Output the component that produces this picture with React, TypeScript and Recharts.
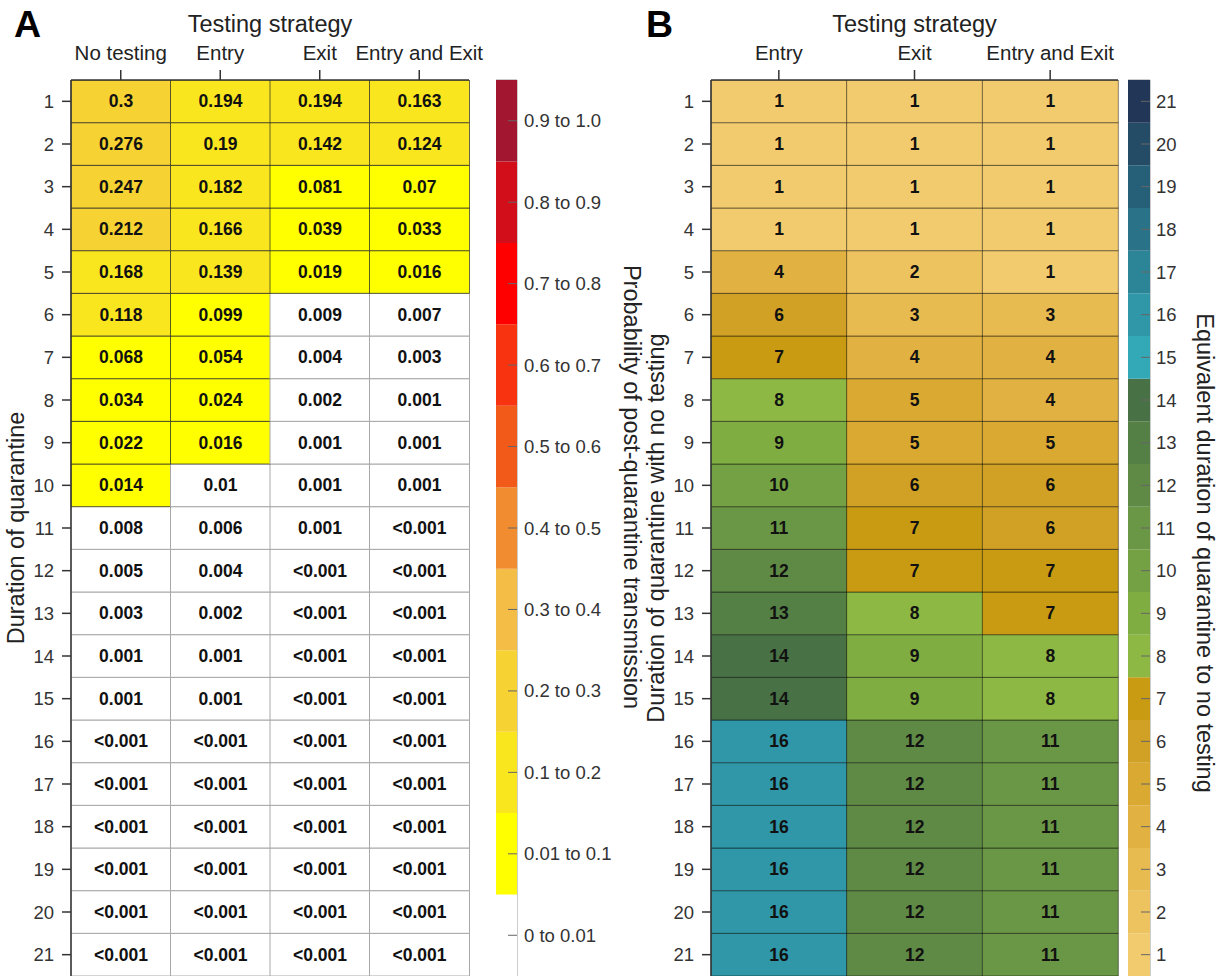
import React from 'react';
import { BarChart, Bar, XAxis, YAxis, Cell, LabelList, ReferenceArea } from 'recharts';

const FONT = '"Liberation Sans", Arial, Helvetica, sans-serif';

// ---------- shared ----------
const durations = [1, 2, 3, 4, 5, 6, 7, 8, 9, 10, 11, 12, 13, 14, 15, 16, 17, 18, 19, 20, 21];

// ---------- panel A: probability of post-quarantine transmission ----------
const strategiesA = ['No testing', 'Entry', 'Exit', 'Entry and Exit'];
const LT = 0.0004; // value shown as "<0.001"
const probNoTesting = [0.3, 0.276, 0.247, 0.212, 0.168, 0.118, 0.068, 0.034, 0.022, 0.014, 0.008, 0.005, 0.003, 0.001, 0.001, LT, LT, LT, LT, LT, LT];
const probEntry = [0.194, 0.19, 0.182, 0.166, 0.139, 0.099, 0.054, 0.024, 0.016, 0.01, 0.006, 0.004, 0.002, 0.001, 0.001, LT, LT, LT, LT, LT, LT];
const probExit = [0.194, 0.142, 0.081, 0.039, 0.019, 0.009, 0.004, 0.002, 0.001, 0.001, 0.001, LT, LT, LT, LT, LT, LT, LT, LT, LT, LT];
const probEntryExit = [0.163, 0.124, 0.07, 0.033, 0.016, 0.007, 0.003, 0.001, 0.001, 0.001, LT, LT, LT, LT, LT, LT, LT, LT, LT, LT, LT];

const binUpperA = [0.01, 0.1, 0.2, 0.3, 0.4, 0.5, 0.6, 0.7, 0.8, 0.9, 1.0];
const binLabelsA = ['0 to 0.01', '0.01 to 0.1', '0.1 to 0.2', '0.2 to 0.3', '0.3 to 0.4', '0.4 to 0.5', '0.5 to 0.6', '0.6 to 0.7', '0.7 to 0.8', '0.8 to 0.9', '0.9 to 1.0'];
const binColorsA = ['#FFFFFF', '#FFFF00', '#FAE61E', '#F6D233', '#F4BE46', '#F28C31', '#F25A1A', '#F8330F', '#FF0000', '#D10E19', '#A3162F'];

// ---------- panel B: equivalent duration with no testing ----------
const strategiesB = ['Entry', 'Exit', 'Entry and Exit'];
const equivEntry = [1, 1, 1, 1, 4, 6, 7, 8, 9, 10, 11, 12, 13, 14, 14, 16, 16, 16, 16, 16, 16];
const equivExit = [1, 1, 1, 1, 2, 3, 4, 5, 5, 6, 7, 7, 8, 9, 9, 12, 12, 12, 12, 12, 12];
const equivEntryExit = [1, 1, 1, 1, 1, 3, 4, 4, 5, 6, 6, 7, 7, 8, 8, 11, 11, 11, 11, 11, 11];

const equivLevels = [1, 2, 3, 4, 5, 6, 7, 8, 9, 10, 11, 12, 13, 14, 15, 16, 17, 18, 19, 20, 21];
const equivColors = [
  '#F2CB6F', '#EDC35F', '#E7BB50', '#E1B241', '#D9A931', '#D0A124', '#C89B13',
  '#8DB843', '#80AD42', '#74A143', '#6A9745', '#5F8A45', '#547F45', '#487245',
  '#33A9B8', '#2F97A8', '#2B8597', '#297287', '#265F78', '#244C67', '#223657',
];

const seriesA = [probNoTesting, probEntry, probExit, probEntryExit];
const seriesB = [equivEntry, equivExit, equivEntryExit];

const fmtProb = (v: number) => (v < 0.001 ? '<0.001' : String(v));
const colorA = (v: number) => {
  const i = binUpperA.findIndex((u) => v <= u);
  return binColorsA[i < 0 ? binColorsA.length - 1 : i];
};
const colorB = (v: number) => equivColors[equivLevels.indexOf(v)];

const rowsA = strategiesA.map((s, j) => {
  const o: any = { strategy: s };
  durations.forEach((d, i) => {
    o['r' + d] = 1;
    o['t' + d] = fmtProb(seriesA[j][i]);
  });
  return o;
});
const rowsB = strategiesB.map((s, j) => {
  const o: any = { strategy: s };
  durations.forEach((d, i) => {
    o['r' + d] = 1;
    o['t' + d] = String(seriesB[j][i]);
  });
  return o;
});

const cbA = [Object.assign({ k: 'cb' }, ...binLabelsA.map((_, i) => ({ ['s' + i]: 1 })))];
const cbB = [Object.assign({ k: 'cb' }, ...equivLevels.map((_, i) => ({ ['s' + i]: 1 })))];

const rowTicks = durations.map((d) => durations.length + 0.5 - d);
const rowFmt = (v: number) => String(durations.length + 0.5 - v);

// ---------- helpers ----------
const CellText = (p: any) => {
  const vb = p.viewBox || p;
  const x = vb.x + vb.width / 2;
  const y = vb.y + vb.height / 2;
  return (
    <text x={x} y={y} textAnchor="middle" dominantBaseline="central" fontSize={17.5} fontWeight="bold" fill="#111" fontFamily={FONT}>
      {p.value}
    </text>
  );
};

const AxisTitle = (props: any) => {
  const { viewBox, txt, offX = 0, offY = 0, rot = 0, mode } = props;
  const vb = viewBox || { x: 0, y: 0, width: 0, height: 0 };
  let x: number;
  let y: number;
  if (mode === 'top') {
    x = vb.x + vb.width / 2;
    y = vb.y + offY;
  } else {
    x = vb.x + offX;
    y = vb.y + vb.height / 2 + offY;
  }
  return (
    <text
      x={x}
      y={y}
      transform={rot ? `rotate(${rot} ${x} ${y})` : undefined}
      textAnchor="middle"
      dominantBaseline={mode === 'top' ? 'alphabetic' : 'central'}
      fontSize={23.5}
      fill="#222"
      fontFamily={FONT}
    >
      {txt}
    </text>
  );
};

const axisStroke = { stroke: '#333', strokeWidth: 1.5 };

function HeatPanel({ rows, series, colorFn, strokeFn, yTitle, left, plotW }: any) {
  const rightPad = 40;
  return (
    <div style={{ position: 'absolute', left, top: 0 }}>
      <BarChart
        width={71 + plotW + rightPad}
        height={1000}
        data={rows}
        margin={{ top: 0, right: rightPad, bottom: 24, left: 0 }}
        barCategoryGap={0}
      >
        {[...durations].reverse().map((d) => (
          <Bar key={d} dataKey={'r' + d} stackId="a" isAnimationActive={false}>
            {series.map((ser: number[], j: number) => (
              <Cell key={j} fill={colorFn(ser[d - 1])} stroke={strokeFn(ser[d - 1])} strokeWidth={1} />
            ))}
            <LabelList dataKey={'t' + d} content={CellText} />
          </Bar>
        ))}
        <XAxis
          dataKey="strategy"
          type="category"
          orientation="top"
          height={80}
          tickSize={10}
          tickMargin={10}
          interval={0}
          axisLine={axisStroke}
          tickLine={axisStroke}
          tick={{ fontSize: 20.5, fill: '#222', fontFamily: FONT }}
          label={<AxisTitle mode="top" offY={32} txt="Testing strategy" />}
        />
        <YAxis
          type="number"
          domain={[0, durations.length]}
          ticks={rowTicks}
          tickFormatter={rowFmt}
          interval={0}
          width={71}
          tickSize={9}
          tickMargin={8}
          allowDataOverflow
          axisLine={axisStroke}
          tickLine={axisStroke}
          tick={{ fontSize: 18.5, fill: '#333', fontFamily: FONT }}
          label={<AxisTitle offX={15.5} rot={-90} txt={yTitle} />}
        />
      </BarChart>
    </div>
  );
}

function ColorBar({ data, colors, labels, left, barW, axisW, title, titleDx, titleDy, tickMargin }: any) {
  const n = colors.length;
  return (
    <div style={{ position: 'absolute', left, top: 0 }}>
      <BarChart
        width={barW + axisW}
        height={1000}
        data={data}
        margin={{ top: 80, right: 0, bottom: 24, left: 0 }}
        barCategoryGap={0}
      >
        {colors.map((c: string, i: number) => (
          <Bar key={i} dataKey={'s' + i} stackId="c" fill={c} isAnimationActive={false} />
        ))}
        <ReferenceArea y1={0} y2={n} fill="none" stroke="#9a9a9a" strokeWidth={1} ifOverflow="visible" />
        <XAxis dataKey="k" hide />
        <YAxis
          orientation="right"
          type="number"
          domain={[0, n]}
          ticks={labels.map((_: any, i: number) => i + 0.5)}
          tickFormatter={(v: number) => String(labels[Math.floor(v)])}
          interval={0}
          width={axisW}
          tickSize={-9}
          tickMargin={tickMargin}
          allowDataOverflow
          axisLine={false}
          tickLine={{ stroke: '#666', strokeWidth: 1 }}
          tick={{ fontSize: 18.5, fill: '#333', fontFamily: FONT, textAnchor: 'start' }}
          label={<AxisTitle offX={titleDx} offY={titleDy} rot={90} txt={title} />}
        />
      </BarChart>
    </div>
  );
}

export default function App() {
  return (
    <div
      style={{
        position: 'absolute',
        left: 0,
        top: 0,
        width: 1225,
        height: 976,
        overflow: 'hidden',
        background: '#ffffff',
        fontFamily: FONT,
      }}
    >
      <svg width={1225} height={60} style={{ position: 'absolute', left: 0, top: 0 }}>
        <text x={14} y={37} fontSize={37.5} fontWeight="bold" fill="#000" fontFamily={FONT}>A</text>
        <text x={646} y={37} fontSize={37.5} fontWeight="bold" fill="#000" fontFamily={FONT}>B</text>
      </svg>
      <HeatPanel
        rows={rowsA}
        series={seriesA}
        colorFn={colorA}
        strokeFn={(v: number) => (v <= binUpperA[0] ? '#a8a8a8' : 'rgba(40,40,40,0.7)')}
        yTitle="Duration of quarantine"
        left={0}
        plotW={398}
      />
      <ColorBar
        data={cbA}
        colors={binColorsA}
        labels={binLabelsA}
        left={496}
        barW={21}
        axisW={150}
        title="Probability of post-quarantine transmission"
        titleDx={114.5}
        titleDy={-41}
        tickMargin={16}
      />
      <HeatPanel
        rows={rowsB}
        series={seriesB}
        colorFn={colorB}
        strokeFn={() => 'rgba(0,0,0,0.45)'}
        yTitle="Duration of quarantine with no testing"
        left={640}
        plotW={407}
      />
      <ColorBar
        data={cbB}
        colors={equivColors}
        labels={equivLevels}
        left={1128}
        barW={22}
        axisW={75}
        title="Equivalent duration of quarantine to no testing"
        titleDx={55}
        titleDy={25}
        tickMargin={15}
      />
    </div>
  );
}
